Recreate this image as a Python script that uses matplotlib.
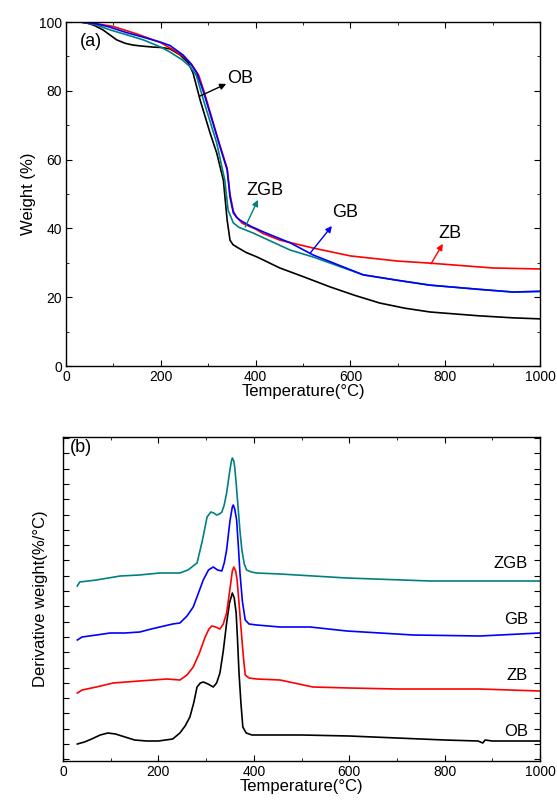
import matplotlib.pyplot as plt
from matplotlib.ticker import MultipleLocator, NullFormatter

plt.rcParams['font.family'] = ['Liberation Sans', 'DejaVu Sans']

# ---- TGA data (weight %) ----
ob_t = [30, 44, 60, 78, 95, 107, 125, 141, 160, 184, 200, 219, 240, 258, 268, 283, 304, 318, 332,
        340, 346, 352, 360, 380, 403, 451, 500, 557, 610, 662, 715, 768, 870, 943, 1000]
ob_w = [100, 99.7, 99, 97.7, 96, 94.8, 93.8, 93.3, 93, 92.7, 92.6, 92.2, 90.5, 88.1, 85.2, 77.3, 67.7, 61.9, 54,
        42.4, 36.6, 35.3, 34.6, 33, 31.7, 28.5, 26, 23, 20.5, 18.3, 16.8, 15.7, 14.6, 14, 13.7]

zb_t = [30, 60, 100, 150, 200, 225, 250, 265, 280, 292, 310, 325, 340, 346, 353, 360, 372, 400, 416, 451, 521,
        600, 700, 768, 900, 1000]
zb_w = [100, 99.6, 98.7, 96.5, 94, 92, 89.8, 87.7, 84.5, 79.5, 71, 64, 57.5, 50, 45, 43.3, 41.5, 39.8, 38.5, 36.6, 34.3,
        32, 30.5, 29.9, 28.5, 28.2]

gb_t = [30, 60, 90, 128, 160, 198, 219, 247, 262, 276, 290, 310, 325, 340, 346, 353, 360, 367, 390, 416, 473,
        521, 627, 700, 768, 870, 943, 1000]
gb_w = [100, 99.6, 98.6, 96.9, 95.7, 94.2, 93.2, 90.4, 88.1, 85.2, 79.7, 70.6, 63.7, 57, 49.1, 44.5, 43.2, 42.4, 40.6, 39, 35.8,
        32.3, 26.5, 24.9, 23.5, 22.3, 21.5, 21.7]

zgb_t = [30, 60, 93, 130, 163, 200, 219, 245, 262, 275, 290, 318, 335, 342, 353, 365, 394, 473, 521, 627,
         700, 768, 870, 943, 1000]
zgb_w = [100, 99.3, 97.7, 96.2, 94.8, 92.7, 91.3, 89, 87, 84.5, 77.3, 64.8, 54, 45.3, 41.6, 40.3, 38.7, 33.7, 31.7, 26.5,
         24.9, 23.5, 22.3, 21.5, 21.7]

# ---- DTG data (arbitrary units, stacked) ----
ob_dt = [30, 45, 60, 78, 94, 110, 130, 150, 175, 200, 230, 245, 256, 266, 274, 281, 288, 294, 304, 315, 322, 329, 336,
         343, 349, 355, 359, 363, 366, 369, 373, 377, 384, 396, 500, 600, 700, 800, 870, 880, 885, 900, 1000]
ob_d = [17, 19, 22, 26, 28, 27, 24, 21, 20, 20, 22, 28, 35, 44, 58, 74, 78, 79, 77, 74, 78, 88, 110,
        138, 158, 168, 163, 148, 120, 88, 58, 34, 28, 26, 26, 25, 23, 21, 20, 18, 21, 20, 20]

zb_dt = [30, 40, 70, 105, 160, 218, 245, 260, 273, 286, 298, 306, 312, 320, 329, 336, 343, 350, 355, 358, 362, 365,
         369, 373, 378, 382, 390, 406, 455, 524, 600, 700, 874, 1000]
zb_d = [68, 71, 74, 78, 80, 82, 81, 86, 94, 108, 124, 132, 135, 134, 132, 137, 148, 172, 190, 194, 190, 181,
        158, 134, 105, 86, 83, 82, 81, 74, 73, 72, 72, 70]

gb_dt = [30, 40, 70, 99, 130, 161, 185, 203, 230, 245, 260, 273, 284, 294, 305, 315, 324, 333, 338, 343, 350, 355,
         357, 360, 364, 368, 371, 376, 382, 390, 406, 455, 518, 595, 734, 874, 1000]
gb_d = [121, 124, 126, 128, 128, 129, 132, 134, 137, 138, 145, 154, 168, 181, 191, 194, 191, 190, 198, 211, 240, 254,
        256, 252, 241, 212, 188, 160, 141, 137, 136, 134, 134, 130, 126, 125, 128]

zgb_dt = [30, 35, 70, 120, 160, 203, 230, 245, 262, 281, 292, 302, 310, 316, 322, 328, 333, 338, 343, 349, 353, 355,
          358, 360, 363, 367, 371, 375, 380, 385, 395, 406, 455, 595, 770, 1000]
zgb_d = [175, 179, 181, 185, 186, 188, 188, 188, 191, 198, 220, 244, 249, 248, 246, 247, 249, 256, 268, 288, 300, 303,
         300, 294, 278, 254, 230, 211, 197, 191, 189, 188, 187, 183, 180, 180]

sample_labels = ['OB', 'ZB', 'GB', 'ZGB']
colors = {'OB': 'black', 'ZB': 'red', 'GB': 'blue', 'ZGB': '#008080'}

fig = plt.figure(figsize=(5.57, 8.01), dpi=100)
ax1 = fig.add_axes([66 / 557, 1 - 366 / 801, 474 / 557, 344 / 801])
ax2 = fig.add_axes([63 / 557, 1 - 761 / 801, 477 / 557, 324 / 801])

lw = 1.2
ax1.plot(ob_t, ob_w, color=colors['OB'], lw=lw)
ax1.plot(zgb_t, zgb_w, color=colors['ZGB'], lw=lw)
ax1.plot(zb_t, zb_w, color=colors['ZB'], lw=lw)
ax1.plot(gb_t, gb_w, color=colors['GB'], lw=lw)

# annotations with arrows
ann = [
    ('OB', (283, 78.5), (338, 82), (340, 83.7)),
    ('ZGB', (378, 40.4), (405, 48.3), (380, 51)),
    ('GB', (515, 32.8), (561, 40.7), (562, 44.5)),
    ('ZB', (770, 29.7), (795, 35.5), (786, 38.6)),
]
for name, p0, p1, ptxt in ann:
    ax1.annotate('', xy=p1, xytext=p0,
                 arrowprops=dict(arrowstyle='-|>', color=colors[name], lw=1.0,
                                 mutation_scale=9, shrinkA=0, shrinkB=0))
    ax1.text(ptxt[0], ptxt[1], name, fontsize=13, ha='left', va='center')

ax1.set_xlim(0, 1000)
ax1.set_ylim(0, 100)
ax1.xaxis.set_major_locator(MultipleLocator(200))
ax1.xaxis.set_minor_locator(MultipleLocator(100))
ax1.yaxis.set_major_locator(MultipleLocator(20))
ax1.yaxis.set_minor_locator(MultipleLocator(10))
ax1.set_xlabel('Temperature(°C)', fontsize=12, labelpad=0)
ax1.set_ylabel('Weight (%)', fontsize=12, labelpad=2)
ax1.text(0.03, 0.93, '(a)', transform=ax1.transAxes, fontsize=13)

for name, t, d in [('OB', ob_dt, ob_d), ('ZB', zb_dt, zb_d),
                   ('GB', gb_dt, gb_d), ('ZGB', zgb_dt, zgb_d)]:
    ax2.plot(t, d, color=colors[name], lw=lw)

label_y = {'OB': 30, 'ZB': 85, 'GB': 141, 'ZGB': 198}
for name in sample_labels:
    ax2.text(975, label_y[name], name, fontsize=12, ha='right', va='center')

ax2.set_xlim(0, 1000)
ax2.set_ylim(0, 324)
ax2.xaxis.set_major_locator(MultipleLocator(200))
ax2.xaxis.set_minor_locator(MultipleLocator(100))
ax2.yaxis.set_major_locator(MultipleLocator(15.3, offset=1.7))
ax2.yaxis.set_major_formatter(NullFormatter())
ax2.set_xlabel('Temperature(°C)', fontsize=12, labelpad=0)
ax2.set_ylabel('Derivative weight(%/°C)', fontsize=12, labelpad=8)
ax2.text(0.015, 0.955, '(b)', transform=ax2.transAxes, fontsize=13)

for ax in (ax1, ax2):
    ax.tick_params(which='both', direction='in', top=True, right=True, labelsize=10, pad=3)
    ax.tick_params(which='major', length=4)
    ax.tick_params(which='minor', length=2.5)
    for s in ax.spines.values():
        s.set_linewidth(1.0)

fig.savefig('out.png', dpi=100)
